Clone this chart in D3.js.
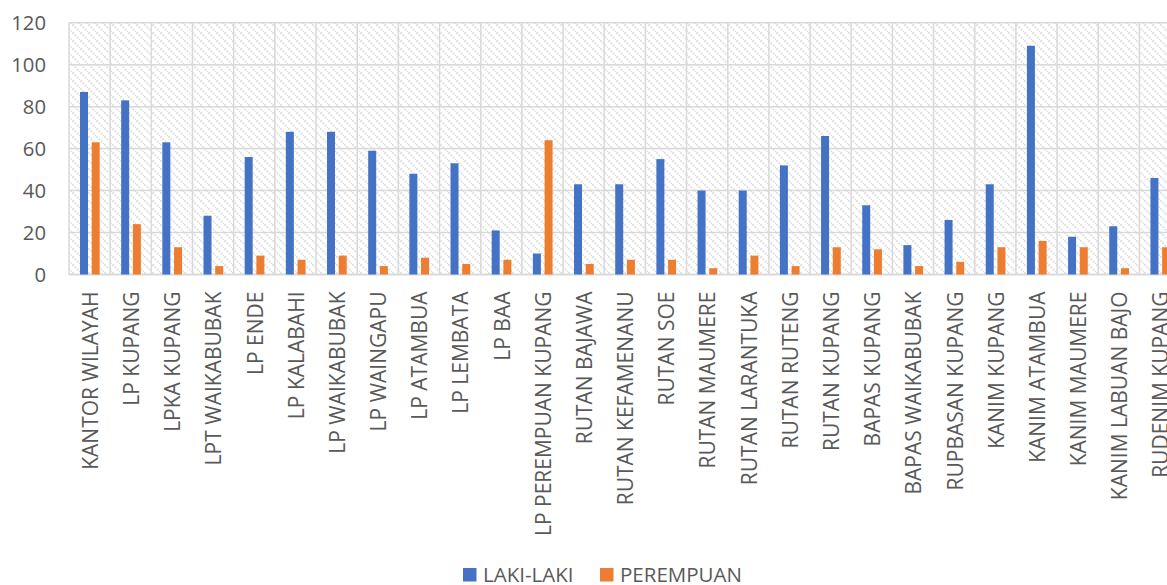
<!DOCTYPE html>
<html>
<head>
<meta charset="utf-8">
<script src="https://cdn.jsdelivr.net/npm/d3@7"></script>
<style>
  html, body { margin: 0; padding: 0; background: #fff; }
  svg { display: block; }
  svg text { font-family: "Open Sans", sans-serif; }
</style>
</head>
<body>
<svg id="chart" width="1167" height="585"></svg>
<script>
const categories = ["KANTOR WILAYAH","LP KUPANG","LPKA KUPANG","LPT WAIKABUBAK","LP ENDE","LP KALABAHI","LP WAIKABUBAK","LP WAINGAPU","LP ATAMBUA","LP LEMBATA","LP BAA","LP PEREMPUAN KUPANG","RUTAN BAJAWA","RUTAN KEFAMENANU","RUTAN SOE","RUTAN MAUMERE","RUTAN LARANTUKA","RUTAN RUTENG","RUTAN KUPANG","BAPAS KUPANG","BAPAS WAIKABUBAK","RUPBASAN KUPANG","KANIM KUPANG","KANIM ATAMBUA","KANIM MAUMERE","KANIM LABUAN BAJO","RUDENIM KUPANG"];
const lakiLaki = [87,83,63,28,56,68,68,59,48,53,21,10,43,43,55,40,40,52,66,33,14,26,43,109,18,23,46];
const perempuan = [63,24,13,4,9,7,9,4,8,5,7,64,5,7,7,3,9,4,13,12,4,6,13,16,13,3,13];
const seriesNames = ["LAKI-LAKI","PEREMPUAN"];
const yTicks = [0,20,40,60,80,100,120];
const colors = ["#4472C4","#ED7D31"];

const svg = d3.select("#chart");
const pLeft = 69, pTop = 22.7, pBottom = 274.5, catW = 41.17;
const pRight = pLeft + catW * categories.length;
const textColor = "#595959";
const FONT = "'Open Sans', sans-serif";

const defs = svg.append("defs");
const pat = defs.append("pattern").attr("id","hatch").attr("patternUnits","userSpaceOnUse")
  .attr("width",8).attr("height",8);
pat.append("rect").attr("width",8).attr("height",8).attr("fill","#fff");
pat.append("path").attr("d","M-2,-2 L10,10 M-2,6 L2,10 M6,-2 L10,2")
  .attr("stroke","#dcdcdc").attr("stroke-width",1.6).attr("stroke-dasharray","2,1.2");

const x = d3.scaleBand().domain(categories).range([pLeft, pRight]).padding(0);
const y = d3.scaleLinear().domain([0,120]).range([pBottom, pTop]);

svg.append("rect").attr("x",pLeft).attr("y",pTop).attr("width",pRight-pLeft).attr("height",pBottom-pTop)
  .attr("fill","url(#hatch)");

svg.append("g").selectAll("line").data(yTicks).join("line")
  .attr("x1",pLeft).attr("x2",pRight).attr("y1",d=>y(d)).attr("y2",d=>y(d))
  .attr("stroke","#d9d9d9").attr("stroke-width",d=>d===0?2:1.5);
svg.append("g").selectAll("line").data(categories).join("line")
  .attr("x1",d=>x(d)).attr("x2",d=>x(d)).attr("y1",pTop).attr("y2",pBottom)
  .attr("stroke","#d9d9d9").attr("stroke-width",1.5);

const yAxis = d3.axisLeft(y).tickValues(yTicks).tickSize(0).tickPadding(0);
const yg = svg.append("g").attr("transform",`translate(46,0)`).call(yAxis)
  .attr("font-family", null).attr("font-size", null);
yg.select(".domain").remove();
yg.selectAll("text").attr("fill",textColor).style("font-family",FONT).style("font-size","20.3px").attr("dy","0.35em");

const barW = 8;
[lakiLaki, perempuan].forEach((vals, si) => {
  svg.append("g").selectAll("rect").data(vals).join("rect")
    .attr("x",(d,i)=> x(categories[i]) + (si===0 ? 11 : 22.7))
    .attr("width",barW)
    .attr("y",d=>y(d)).attr("height",d=>y(0)-y(d))
    .attr("fill",colors[si]);
});

const xAxis = d3.axisBottom(x).tickSize(0).tickPadding(0);
const xg = svg.append("g").attr("transform",`translate(0,${pBottom})`).call(xAxis)
  .attr("font-family", null).attr("font-size", null);
xg.select(".domain").remove();
xg.selectAll("text")
  .attr("fill",textColor).style("font-family",FONT).style("font-size","21px")
  .attr("text-anchor","end")
  .attr("transform","rotate(-90)")
  .attr("x",-17).attr("y",1).attr("dy","0.35em");

const legend = svg.append("g");
const legX = [463, 600];
seriesNames.forEach((n,i)=>{
  legend.append("rect").attr("x",legX[i]).attr("y",568).attr("width",13.5).attr("height",13.5).attr("fill",colors[i]);
  legend.append("text").attr("x",legX[i]+20).attr("y",575).attr("dy","0.35em")
    .attr("fill",textColor).style("font-family",FONT).style("font-size","20.5px").text(n);
});
</script>
</body>
</html>
